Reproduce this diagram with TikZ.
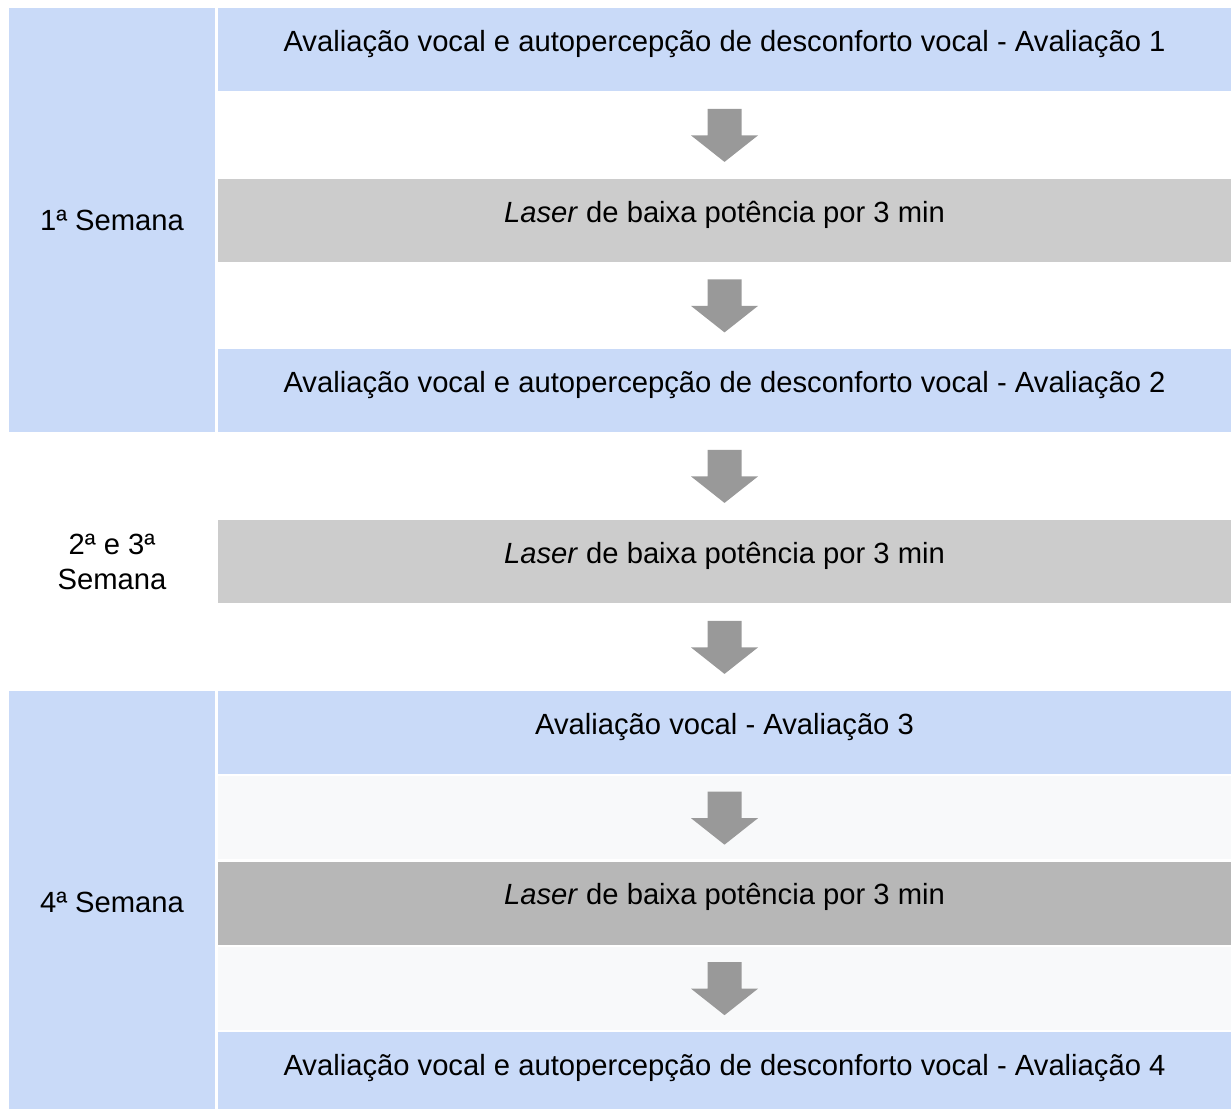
\documentclass[tikz,border=0pt]{standalone}
\usepackage{fontspec}
\setmainfont{Liberation Sans}
\usepackage{xcolor}
\usepackage{tikz}
\definecolor{weekblue}{RGB}{201,218,248}
\definecolor{lasergray}{RGB}{204,204,204}
\definecolor{laserdark}{RGB}{183,183,183}
\definecolor{stepshade}{RGB}{248,249,250}
\definecolor{arrowgray}{RGB}{153,153,153}

\begin{document}
\begin{tikzpicture}[
  x=0.5pt, y=-0.5pt,
  font=\fontsize{14.6}{17.5}\selectfont,
  cell/.style={minimum width=506.5pt, minimum height=41.5pt, inner sep=0pt,
               text height=12pt, text depth=10.5pt, anchor=north},
  evalcell/.style={cell, fill=weekblue},
  lasercell/.style={cell, fill=lasergray},
  gapcell/.style={cell},
  week/.style={minimum width=103pt, inner sep=0pt, align=center, anchor=north},
  bigarrow/.pic={\fill[arrowgray] (-17,-26.5) -- (17,-26.5) -- (17,0) -- (33.5,0)
                 -- (0,26.5) -- (-33.5,0) -- (-17,0) -- cycle;},
]
  \useasboundingbox (0,0) rectangle (1231,1108);

  % Weeks
  \node[week, fill=weekblue, minimum height=212pt] (w1) at (112,8) {1ª Semana};
  \node[week, minimum height=127.5pt] (w2) at (112,434) {2ª e 3ª\\Semana};
  \node[week, fill=weekblue, minimum height=211.5pt] (w4) at (112,691) {4ª Semana};

  % Steps of the 1st week
  \node[evalcell] (r0) at (724.5,8)
    {Avaliação vocal e autopercepção de desconforto vocal - Avaliação 1};
  \node[gapcell] (r1) at (724.5,93.5) {};
  \node[lasercell] (r2) at (724.5,179) {\textit{Laser} de baixa potência por 3 min};
  \node[gapcell] (r3) at (724.5,264) {};
  \node[evalcell] (r4) at (724.5,349)
    {Avaliação vocal e autopercepção de desconforto vocal - Avaliação 2};

  % 2nd and 3rd weeks
  \node[gapcell] (r5) at (724.5,434.5) {};
  \node[lasercell] (r6) at (724.5,520) {\textit{Laser} de baixa potência por 3 min};
  \node[gapcell] (r7) at (724.5,605.5) {};

  % 4th week
  \node[evalcell] (r8) at (724.5,691) {Avaliação vocal - Avaliação 3};
  \node[gapcell, fill=stepshade] (r9) at (724.5,775.5) {};
  \node[lasercell, fill=laserdark] (r10) at (724.5,861.5)
    {\textit{Laser} de baixa potência por 3 min};
  \node[gapcell, fill=stepshade] (r11) at (724.5,946.5) {};
  \node[evalcell] (r12) at (724.5,1032)
    {Avaliação vocal e autopercepção de desconforto vocal - Avaliação 4};

  % Arrows between the steps
  \path (r0) -- (r2) pic[midway] {bigarrow};
  \path (r2) -- (r4) pic[midway] {bigarrow};
  \path (r4) -- (r6) pic[midway] {bigarrow};
  \path (r6) -- (r8) pic[midway] {bigarrow};
  \path (r8) -- (r10) pic[midway] {bigarrow};
  \path (r10) -- (r12) pic[midway] {bigarrow};
\end{tikzpicture}
\end{document}
